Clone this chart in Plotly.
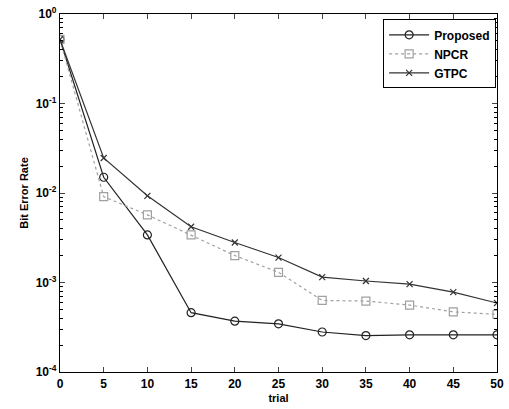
import plotly.graph_objects as go

trial = [0, 5, 10, 15, 20, 25, 30, 35, 40, 45, 50]
proposed = [0.52, 0.0150, 0.0034, 4.6e-4, 3.7e-4, 3.45e-4, 2.8e-4, 2.55e-4, 2.6e-4, 2.6e-4, 2.6e-4]
npcr = [0.52, 0.0091, 0.0057, 0.0034, 0.0020, 0.0013, 6.3e-4, 6.2e-4, 5.6e-4, 4.7e-4, 4.4e-4]
gtpc = [0.52, 0.0246, 0.0093, 0.0042, 0.0028, 0.0019, 0.00115, 0.00104, 9.6e-4, 7.8e-4, 5.9e-4]

x_ticks = [0, 5, 10, 15, 20, 25, 30, 35, 40, 45, 50]
y_ticks = [1e-4, 1e-3, 1e-2, 1e-1, 1e0]
y_ticktext = ["<b>10<sup>-4</sup></b>", "<b>10<sup>-3</sup></b>", "<b>10<sup>-2</sup></b>",
              "<b>10<sup>-1</sup></b>", "<b>10<sup>0</sup></b>"]
minor_y = [m * 10.0 ** e for e in range(-4, 0) for m in range(2, 10)]

fig = go.Figure()
fig.add_trace(go.Scatter(x=trial, y=proposed, name="<b>Proposed</b>", mode="lines+markers",
                         line=dict(color="#222222", width=1.2),
                         marker=dict(symbol="circle-open", size=8, color="#222222", line=dict(width=1.2))))
fig.add_trace(go.Scatter(x=trial, y=npcr, name="<b>NPCR</b>", mode="lines+markers",
                         line=dict(color="#a0a0a0", width=1.2, dash="dot"),
                         marker=dict(symbol="square-open", size=8, color="#a0a0a0", line=dict(width=1.2))))
fig.add_trace(go.Scatter(x=trial, y=gtpc, name="<b>GTPC</b>", mode="lines+markers",
                         line=dict(color="#333333", width=1.2),
                         marker=dict(symbol="x-thin-open", size=6, color="#333333", line=dict(width=1.2))))

fig.update_layout(
    width=509, height=409,
    margin=dict(l=60, r=12, t=14, b=37),
    paper_bgcolor="white", plot_bgcolor="white",
    font=dict(family="Liberation Sans, Arial", size=12, color="black"),
    showlegend=True,
    legend=dict(x=0.998, y=0.985, xanchor="right", yanchor="top",
                bordercolor="black", borderwidth=1, bgcolor="white",
                font=dict(size=12), tracegroupgap=0, itemwidth=40),
)
fig.update_xaxes(range=[0, 50], tickvals=x_ticks, ticktext=[f"<b>{v}</b>" for v in x_ticks],
                 ticks="inside", ticklen=5, showline=True, linecolor="black", linewidth=1.2,
                 mirror="ticks", showgrid=False, zeroline=False, automargin=False,
                 title=dict(text="<b>trial</b>", font=dict(size=11), standoff=4),
                 tickfont=dict(size=12))
fig.update_yaxes(type="log", range=[-4, 0], tickvals=y_ticks, ticktext=y_ticktext,
                 ticks="inside", ticklen=5, showline=True, linecolor="black", linewidth=1.2,
                 mirror="ticks", showgrid=False, zeroline=False, automargin=False,
                 minor=dict(tickvals=minor_y, ticks="inside", ticklen=3, tickcolor="black", showgrid=False),
                 title=dict(text="<b>Bit Error Rate</b>", font=dict(size=11), standoff=4),
                 tickfont=dict(size=12))

fig.write_html("out.html")
